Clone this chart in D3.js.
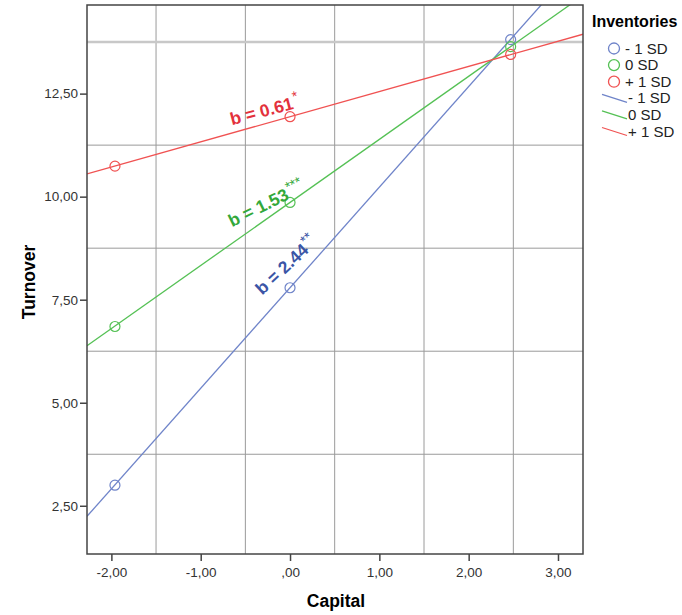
<!DOCTYPE html>
<html lang="en">
<head>
	<meta charset="UTF-8">
	<title>Turnover by Capital</title>
	<style>
		html, body { margin: 0; background: #fff; }
		svg { display: block; font-family: 'Liberation Sans', Arial, sans-serif; }
	</style>
	<script src="https://d3js.org/d3.v7.min.js"></script>
</head>
<body>
	<svg id="chart" width="682" height="615"></svg>
	<script>
		// groups (Inventories moderator levels)
		const groups = ['- 1 SD', '0 SD', '+ 1 SD'];
		const colors = ['#6f84c9', '#55c155', '#f05252'];
		const labelColors = ['#3b55a6', '#33a83a', '#e3313c'];

		// predicted values at three Capital levels
		const capitalLevels = [-1.96, 0, 2.47];
		const turnoverLow = [3.00, 7.79, 13.81];
		const turnoverMid = [6.85, 9.86, 13.64];
		const turnoverHigh = [10.74, 11.94, 13.45];

		// simple slopes and intercepts
		const intercepts = [7.79, 9.86, 11.94];
		const slopes = [2.44, 1.53, 0.61];
		const slopeLabels = ['b = 2.44', 'b = 1.53', 'b = 0.61'];
		const stars = ['**', '***', '*'];

		// ticks
		const xTicks = [-2, -1, 0, 1, 2, 3];
		const yTicks = [2.5, 5, 7.5, 10, 12.5];
		const xGrid = [-1.5, -0.5, 0.5, 1.5, 2.5];
		const yGrid = [3.75, 6.25, 8.75, 11.25, 13.75];

		const fmt = v => {
			const s = v.toFixed(2).replace('.', ',');
			return s.replace(/^0,/, ',').replace(/^-0,/, '-,');
		};

		const svg = d3.select('#chart');
		const plot = { left: 87, right: 583, top: 5, bottom: 554 };

		const x = d3.scaleLinear().domain([-2.273, 3.28]).range([plot.left, plot.right]);
		const y = d3.scaleLinear().domain([1.33, 14.65]).range([plot.bottom, plot.top]);

		svg.append('defs').append('clipPath').attr('id', 'clip')
			.append('rect')
			.attr('x', plot.left).attr('y', plot.top)
			.attr('width', plot.right - plot.left).attr('height', plot.bottom - plot.top);

		// grid
		svg.append('g').selectAll('line')
			.data(xGrid)
			.join('line')
			.attr('x1', d => x(d)).attr('x2', d => x(d))
			.attr('y1', plot.top).attr('y2', plot.bottom)
			.attr('stroke', '#9a9a9a').attr('stroke-width', 1);
		svg.append('g').selectAll('line')
			.data(yGrid)
			.join('line')
			.attr('x1', plot.left).attr('x2', plot.right)
			.attr('y1', d => y(d)).attr('y2', d => y(d))
			.attr('stroke', (d, i) => i === yGrid.length - 1 ? '#c8c8c8' : '#9a9a9a')
			.attr('stroke-width', (d, i) => i === yGrid.length - 1 ? 2.5 : 1);

		// fit lines
		const lineG = svg.append('g').attr('clip-path', 'url(#clip)');
		const xDom = x.domain();
		groups.forEach((g, i) => {
			lineG.append('line')
				.attr('x1', x(xDom[0])).attr('y1', y(intercepts[i] + slopes[i] * xDom[0]))
				.attr('x2', x(xDom[1])).attr('y2', y(intercepts[i] + slopes[i] * xDom[1]))
				.attr('stroke', colors[i]).attr('stroke-width', 1.3);
		});

		// points
		const series = [turnoverLow, turnoverMid, turnoverHigh];
		series.forEach((vals, i) => {
			svg.append('g').selectAll('circle')
				.data(vals)
				.join('circle')
				.attr('cx', (d, j) => x(capitalLevels[j]))
				.attr('cy', d => y(d))
				.attr('r', 5)
				.attr('fill', 'none')
				.attr('stroke', colors[i]).attr('stroke-width', 1.2);
		});

		// frame
		svg.append('rect')
			.attr('x', plot.left).attr('y', plot.top)
			.attr('width', plot.right - plot.left).attr('height', plot.bottom - plot.top)
			.attr('fill', 'none').attr('stroke', '#444').attr('stroke-width', 1.5);

		// axes
		const xAxis = svg.append('g')
			.attr('transform', `translate(0,${plot.bottom})`)
			.call(d3.axisBottom(x).tickValues(xTicks).tickFormat(fmt).tickSize(7).tickSizeOuter(0));
		const yAxis = svg.append('g')
			.attr('transform', `translate(${plot.left},0)`)
			.call(d3.axisLeft(y).tickValues(yTicks).tickFormat(fmt).tickSize(7).tickSizeOuter(0));
		[xAxis, yAxis].forEach(a => {
			a.select('.domain').remove();
			a.selectAll('line').attr('stroke', '#444').attr('stroke-width', 1.5);
			a.selectAll('text').attr('fill', '#333').style('font-size', '13.5px')
				.style('font-family', "'Liberation Sans', Arial, sans-serif");
		});
		xAxis.selectAll('text').attr('y', 12).attr('dy', '0.85em');
		yAxis.selectAll('text').attr('x', -9);

		// slope annotations (anchored at the start of the text, in data units)
		const labelPos = [
			{ x: -0.31, y: 7.60, angle: -43 },
			{ x: -0.65, y: 9.26, angle: -26 },
			{ x: -0.65, y: 11.73, angle: -15 },
		];
		labelPos.forEach((p, i) => {
			const t = svg.append('text')
				.attr('transform', `translate(${x(p.x)},${y(p.y)}) rotate(${p.angle})`)
				.attr('fill', labelColors[i])
				.style('font-size', '17.5px').style('font-weight', 'bold');
			t.append('tspan').text(slopeLabels[i]);
			t.append('tspan').text(stars[i])
				.attr('dx', 1).attr('dy', -7).style('font-size', '14px').style('font-weight', 'normal');
		});

		// axis titles
		svg.append('text')
			.attr('x', 336).attr('y', 607)
			.attr('text-anchor', 'middle')
			.style('font-size', '17.5px').style('font-weight', 'bold')
			.text('Capital');
		svg.append('text')
			.attr('transform', 'translate(35,282) rotate(-90)')
			.attr('text-anchor', 'middle')
			.style('font-size', '17.5px').style('font-weight', 'bold')
			.text('Turnover');

		// legend
		const leg = svg.append('g');
		leg.append('text')
			.attr('x', 592).attr('y', 27)
			.style('font-size', '16px').style('font-weight', 'bold')
			.text('Inventories');
		const rowY = i => 48.5 + i * 16.6;
		groups.forEach((g, i) => {
			const cy = rowY(i);
			leg.append('circle')
				.attr('cx', 614).attr('cy', cy).attr('r', 5.5)
				.attr('fill', 'none').attr('stroke', colors[i]).attr('stroke-width', 1.3);
			leg.append('text')
				.attr('x', 625).attr('y', cy + 5)
				.style('font-size', '15px').attr('fill', '#222')
				.text(g);
		});
		groups.forEach((g, i) => {
			const cy = rowY(i + 3);
			leg.append('line')
				.attr('x1', 602).attr('y1', cy - 4)
				.attr('x2', 627).attr('y2', cy + 4)
				.attr('stroke', colors[i]).attr('stroke-width', 1.3);
			leg.append('text')
				.attr('x', 628).attr('y', cy + 5)
				.style('font-size', '15px').attr('fill', '#222')
				.text(g);
		});
	</script>
</body>
</html>
